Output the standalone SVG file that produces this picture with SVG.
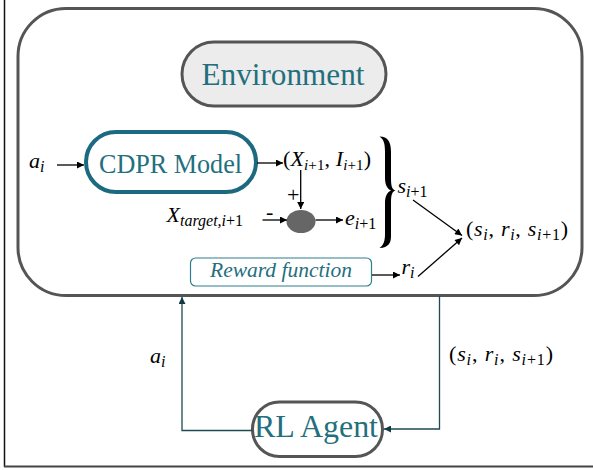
<svg xmlns="http://www.w3.org/2000/svg" width="593" height="470" viewBox="0 0 593 470">
<style>
.lbl{font-family:"Liberation Serif","Times New Roman",serif;fill:#236f7e}
.m{font-family:"Liberation Serif","Times New Roman",serif;fill:#000;font-size:22px}
.it{font-style:italic}
.blk{stroke:#000;stroke-width:1.3;fill:none}
.tl{stroke:#1e4a52;stroke-width:1.3;fill:none}
</style>
<defs>
<marker id="ab" viewBox="0 0 10 10" refX="10" refY="5" markerWidth="9" markerHeight="7" markerUnits="userSpaceOnUse" orient="auto"><path d="M0,0L10,5L0,10Z" fill="#000"/></marker>
<marker id="at" viewBox="0 0 10 10" refX="10" refY="5" markerWidth="9" markerHeight="7" markerUnits="userSpaceOnUse" orient="auto"><path d="M0,0L10,5L0,10Z" fill="#0f3a42"/></marker>
</defs>
<rect width="593" height="470" fill="#fff"/>
<line x1="4.5" y1="0" x2="4.5" y2="467" stroke="#111" stroke-width="1.5"/>
<line x1="4" y1="466.5" x2="593" y2="466.5" stroke="#444" stroke-width="2"/>

<g id="environment-frame">
<rect x="18" y="8.5" width="564" height="287" rx="48" fill="none" stroke="#555" stroke-width="3"/>
</g>

<g id="environment">
<rect x="182" y="42" width="204" height="64" rx="32" fill="#ececec" stroke="#555" stroke-width="3"/>
<text class="lbl" x="283" y="84.5" font-size="31" text-anchor="middle" textLength="163" lengthAdjust="spacingAndGlyphs">Environment</text>
</g>

<g id="cdpr-model">
<rect x="86" y="132" width="170" height="60" rx="30" fill="#fff" stroke="#1b6a80" stroke-width="4"/>
<text class="lbl" x="170.5" y="172.5" font-size="28" text-anchor="middle" textLength="143" lengthAdjust="spacingAndGlyphs">CDPR Model</text>
</g>

<g id="sum-node">
<ellipse cx="301" cy="221.5" rx="14.5" ry="11.5" fill="#666"/>
</g>

<g id="reward-function">
<rect x="190.5" y="258" width="181" height="28" rx="5" fill="#fff" stroke="#2f7f8f" stroke-width="1.2"/>
<text class="lbl it" x="210" y="276.5" font-size="20" textLength="142" lengthAdjust="spacingAndGlyphs">Reward function</text>
</g>

<g id="rl-agent">
<rect x="252.5" y="402" width="130" height="54.5" rx="27" fill="#fff" stroke="#555" stroke-width="3"/>
<text class="lbl" x="316" y="437" font-size="31" text-anchor="middle" textLength="124" lengthAdjust="spacingAndGlyphs">RL Agent</text>
</g>

<g id="connectors">
<line class="blk" x1="57" y1="165" x2="84" y2="165" marker-end="url(#ab)"/>
<line class="blk" x1="257" y1="163" x2="283" y2="163" marker-end="url(#ab)"/>
<line class="blk" x1="300.7" y1="170" x2="300.7" y2="209" marker-end="url(#ab)"/>
<line class="blk" x1="262.5" y1="220" x2="287" y2="220" marker-end="url(#ab)"/>
<line class="blk" x1="315.5" y1="220" x2="343" y2="220" marker-end="url(#ab)"/>
<line class="blk" x1="413" y1="200" x2="462" y2="235.5" marker-end="url(#ab)"/>
<line class="blk" x1="372" y1="275" x2="400" y2="275" marker-end="url(#ab)"/>
<line class="blk" x1="418" y1="276.5" x2="462" y2="238" marker-end="url(#ab)"/>
<polyline class="tl" points="252.5,430.5 182,430.5 182,297" marker-end="url(#at)"/>
<polyline class="tl" points="439.5,296 439.5,429 384,429" marker-end="url(#at)"/>
<path d="M379.5,136.5 C388,136.5 391,142 391,152 L391,178 C391,186 392,189.5 395.5,190.5 C392,191.5 391,195 391,203 L391,236 C391,243 388.5,247.5 379.5,248 C384,245 385,240 385,234 L385,203 C385,196 387.5,192 391,190.5 C387.5,189 385,185 385,178 L385,152 C385,144 384,139.5 379.5,136.5 Z" fill="#000"/>
</g>

<g id="labels">
<text class="m it" x="29" y="168" font-size="25">a<tspan font-size="16" dy="4">i</tspan></text>
<text class="m" x="283" y="166" textLength="88" lengthAdjust="spacing">(<tspan class="it">X</tspan><tspan font-size="15" dy="4"><tspan class="it">i</tspan>+1</tspan><tspan dy="-4">, </tspan><tspan class="it">I</tspan><tspan font-size="15" dy="4"><tspan class="it">i</tspan>+1</tspan><tspan dy="-4">)</tspan></text>
<text class="m" x="287" y="202" font-size="21">+</text>
<text class="m it" x="166.5" y="222" font-size="23">X<tspan font-size="16" dy="4">target,</tspan><tspan font-size="16">i</tspan><tspan font-size="16" font-style="normal">+1</tspan></text>
<text class="m" x="266" y="219" font-size="21">-</text>
<text class="m" x="345" y="225"><tspan class="it">e</tspan><tspan font-size="16" dy="4"><tspan class="it">i</tspan>+1</tspan></text>
<text class="m" x="397.5" y="193"><tspan class="it">s</tspan><tspan font-size="16" dy="4"><tspan class="it">i</tspan>+1</tspan></text>
<text class="m" x="466" y="236" font-size="23" textLength="102" lengthAdjust="spacing">(<tspan class="it">s</tspan><tspan font-size="16" dy="4" class="it">i</tspan><tspan dy="-4">, </tspan><tspan class="it">r</tspan><tspan font-size="16" dy="4" class="it">i</tspan><tspan dy="-4">, </tspan><tspan class="it">s</tspan><tspan font-size="16" dy="4"><tspan class="it">i</tspan>+1</tspan><tspan dy="-4">)</tspan></text>
<text class="m" x="401.5" y="274" font-size="23"><tspan class="it">r</tspan><tspan font-size="16" dy="4" class="it">i</tspan></text>
<text class="m it" x="150" y="363" font-size="25">a<tspan font-size="16" dy="4">i</tspan></text>
<text class="m" x="449" y="361" font-size="23" textLength="104" lengthAdjust="spacing">(<tspan class="it">s</tspan><tspan font-size="16" dy="4" class="it">i</tspan><tspan dy="-4">, </tspan><tspan class="it">r</tspan><tspan font-size="16" dy="4" class="it">i</tspan><tspan dy="-4">, </tspan><tspan class="it">s</tspan><tspan font-size="16" dy="4"><tspan class="it">i</tspan>+1</tspan><tspan dy="-4">)</tspan></text>
</g>
</svg>
